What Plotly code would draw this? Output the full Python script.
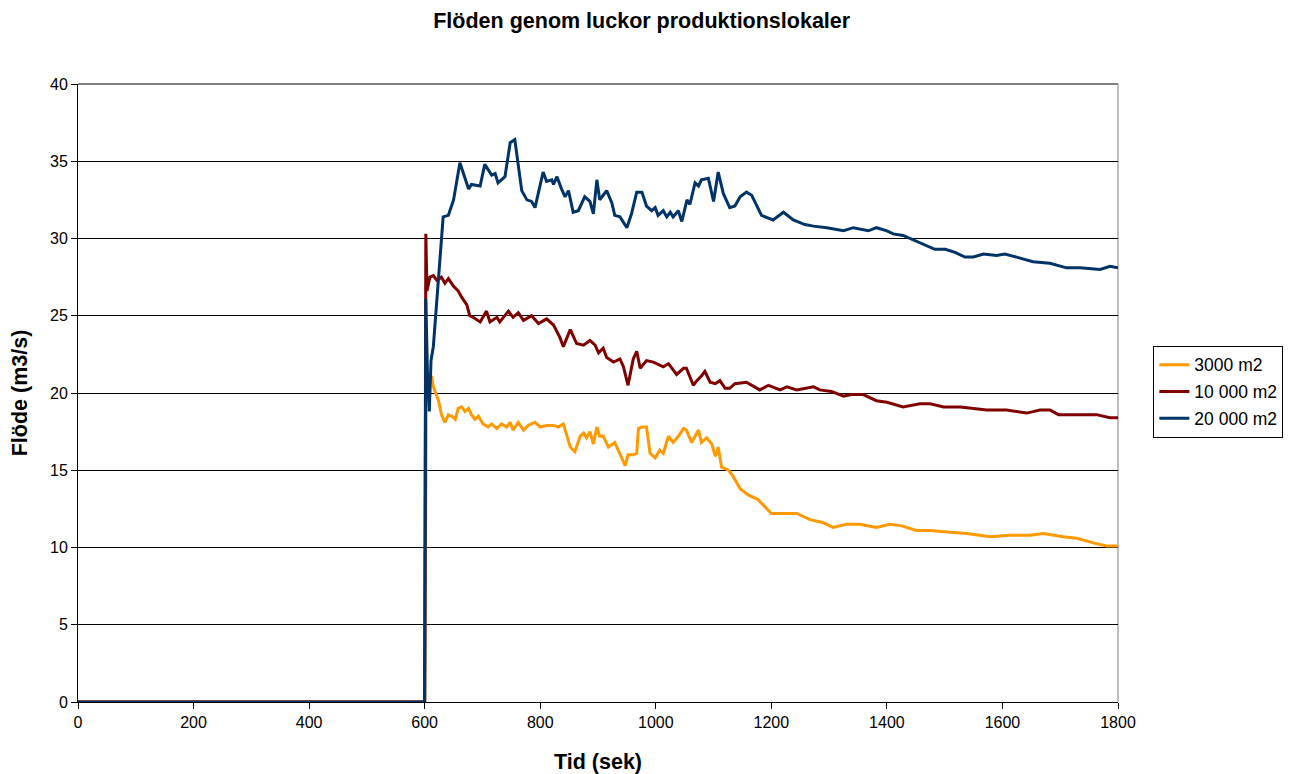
import plotly.graph_objects as go

# --- data ---
t_3000 = [0, 600, 603, 612, 615, 624, 629, 635, 641, 647, 653, 658, 664, 670, 676, 681, 687, 693, 701,
          710, 716, 725, 733, 742, 748, 753, 762, 771, 779, 791, 800, 811, 823, 831, 840, 846, 852,
          860, 869, 875, 880, 886, 892, 898, 903, 909, 918, 929, 938, 947, 952, 961, 967, 970, 976,
          984, 990, 999, 1007, 1013, 1022, 1030, 1039, 1048, 1053, 1062, 1068, 1074, 1079, 1088,
          1097, 1103, 1108, 1114, 1126, 1134, 1146, 1160, 1177, 1190, 1200, 1215, 1224, 1244, 1267,
          1290, 1307, 1330, 1353, 1382, 1405, 1426, 1451, 1475, 1504, 1538, 1579, 1613, 1648, 1671,
          1705, 1729, 1757, 1780, 1800]
v_3000 = [0, 0, 20.8, 21.1, 20.4, 19.5, 18.6, 18.1, 18.6, 18.5, 18.3, 19.0, 19.1, 18.8, 19.0, 18.6,
          18.3, 18.5, 18.0, 17.8, 18.0, 17.7, 18.0, 17.8, 18.1, 17.6, 18.1, 17.6, 17.9, 18.1, 17.8,
          17.9, 17.9, 17.8, 18.0, 17.2, 16.5, 16.2, 17.2, 17.4, 17.1, 17.5, 16.7, 17.8, 17.2, 17.2,
          16.5, 16.8, 16.1, 15.3, 16.0, 16.0, 16.1, 17.7, 17.8, 17.8, 16.1, 15.8, 16.3, 16.1, 17.2,
          16.8, 17.2, 17.7, 17.6, 16.8, 17.2, 17.6, 16.8, 17.1, 16.7, 15.9, 16.5, 15.2, 15.0, 14.6,
          13.8, 13.4, 13.1, 12.6, 12.2, 12.2, 12.2, 12.2, 11.8, 11.6, 11.3, 11.5, 11.5, 11.3, 11.5,
          11.4, 11.1, 11.1, 11.0, 10.9, 10.7, 10.8, 10.8, 10.9, 10.7, 10.6, 10.3, 10.1, 10.1]

t_10000 = [0, 600, 602, 604, 609, 615, 621, 629, 635, 641, 650, 658, 664, 673, 678, 684, 696, 707,
           713, 725, 730, 745, 753, 762, 771, 785, 797, 811, 823, 834, 840, 852, 863, 875, 886, 895,
           901, 909, 915, 927, 938, 944, 952, 961, 967, 973, 984, 996, 1013, 1022, 1036, 1048, 1053,
           1065, 1071, 1079, 1085, 1094, 1103, 1111, 1120, 1128, 1137, 1157, 1180, 1195, 1215, 1227,
           1244, 1273, 1284, 1304, 1325, 1339, 1359, 1382, 1400, 1428, 1457, 1475, 1498, 1527, 1550,
           1573, 1607, 1642, 1665, 1682, 1697, 1723, 1740, 1763, 1786, 1800]
v_10000 = [0, 0, 30.3, 26.6, 27.5, 27.6, 27.3, 27.5, 27.1, 27.4, 26.9, 26.6, 26.2, 25.7, 25.0, 24.9,
           24.6, 25.3, 24.6, 24.9, 24.6, 25.3, 24.9, 25.2, 24.7, 25.0, 24.5, 24.8, 24.4, 23.6, 23.0,
           24.1, 23.2, 23.1, 23.4, 23.1, 22.6, 22.9, 22.3, 22.0, 22.2, 21.7, 20.5, 22.2, 22.7, 21.6,
           22.1, 22.0, 21.7, 21.9, 21.2, 21.6, 21.6, 20.5, 20.8, 21.1, 21.4, 20.7, 20.6, 20.8, 20.3,
           20.3, 20.6, 20.7, 20.2, 20.5, 20.2, 20.4, 20.2, 20.4, 20.2, 20.1, 19.8, 19.9, 19.9, 19.5,
           19.4, 19.1, 19.3, 19.3, 19.1, 19.1, 19.0, 18.9, 18.9, 18.7, 18.9, 18.9, 18.6, 18.6, 18.6,
           18.6, 18.4, 18.4]

t_20000 = [0, 600, 602, 605, 608, 611, 615, 632, 641, 650, 661, 676, 681, 696, 704, 716, 722, 727,
           739, 748, 756, 762, 768, 777, 785, 791, 800, 805, 811, 820, 823, 829, 837, 843, 849, 857,
           866, 877, 886, 892, 898, 903, 909, 915, 924, 929, 938, 950, 958, 967, 976, 984, 993, 999,
           1004, 1013, 1019, 1025, 1030, 1039, 1045, 1054, 1059, 1068, 1074, 1079, 1091, 1100, 1108,
           1117, 1128, 1137, 1146, 1157, 1166, 1183, 1203, 1221, 1238, 1258, 1273, 1296, 1325, 1342,
           1368, 1382, 1400, 1411, 1428, 1446, 1463, 1483, 1501, 1518, 1535, 1550, 1567, 1590, 1604,
           1625, 1653, 1682, 1711, 1734, 1769, 1786, 1800]
v_20000 = [0, 0, 26.1, 21.0, 18.8, 22.1, 23.0, 31.4, 31.5, 32.5, 34.9, 33.2, 33.5, 33.4, 34.8, 34.1,
           34.2, 33.6, 34.0, 36.2, 36.4, 34.6, 33.1, 32.5, 32.4, 32.0, 33.4, 34.3, 33.7, 33.8, 33.5,
           34.0, 33.2, 32.7, 33.1, 31.7, 31.8, 32.7, 32.4, 31.6, 33.8, 32.5, 32.8, 33.1, 32.3, 31.5,
           31.4, 30.7, 31.6, 33.0, 33.0, 32.1, 31.8, 32.0, 31.5, 31.8, 31.4, 31.7, 31.4, 31.8, 31.1,
           32.5, 32.2, 33.6, 33.4, 33.8, 33.9, 32.4, 34.3, 32.9, 32.0, 32.1, 32.7, 33.0, 32.8, 31.5,
           31.2, 31.7, 31.2, 30.9, 30.8, 30.7, 30.5, 30.7, 30.5, 30.7, 30.5, 30.3, 30.2, 29.9, 29.6,
           29.3, 29.3, 29.1, 28.8, 28.8, 29.0, 28.9, 29.0, 28.8, 28.5, 28.4, 28.1, 28.1, 28.0, 28.2,
           28.1]

series = [
    ("3000 m2", t_3000, v_3000, "#FF9900"),
    ("10 000 m2", t_10000, v_10000, "#800000"),
    ("20 000 m2", t_20000, v_20000, "#003366"),
]

x_ticks = [0, 200, 400, 600, 800, 1000, 1200, 1400, 1600, 1800]
y_ticks = [0, 5, 10, 15, 20, 25, 30, 35, 40]

FONT = "Liberation Sans, Arial, sans-serif"

fig = go.Figure()
for name, t, v, col in series:
    fig.add_trace(go.Scatter(x=t, y=v, mode="lines", name=name, legendgroup=name,
                             line=dict(color=col, width=3)))

fig.update_layout(
    width=1299, height=774,
    paper_bgcolor="white", plot_bgcolor="white",
    margin=dict(l=78, r=181, t=84, b=72, autoexpand=False),
    font=dict(family=FONT, color="black", size=16),
    title=dict(text="<b>Flöden genom luckor produktionslokaler</b>",
               x=0.494, xanchor="center", y=0.974, yanchor="middle",
               font=dict(size=21.5, family=FONT, color="black")),
    legend=dict(x=1.034, xanchor="left", y=0.502, yanchor="middle",
                bordercolor="black", borderwidth=1, bgcolor="white",
                font=dict(size=17.5, family=FONT), tracegroupgap=1,
                itemwidth=30),
    showlegend=True,
)
fig.update_xaxes(range=[0, 1800], tickvals=x_ticks, ticktext=[str(v) for v in x_ticks],
                 showgrid=False, showline=True, linecolor="black", linewidth=1,
                 ticks="outside", ticklen=6, tickcolor="black",
                 tickfont=dict(size=16, family=FONT), automargin=False,
                 title=dict(text="<b>Tid (sek)</b>", font=dict(size=21.5, family=FONT), standoff=24),
                 zeroline=False)
fig.update_yaxes(range=[0, 40], tickvals=y_ticks, ticktext=[str(v) for v in y_ticks],
                 showgrid=True, gridcolor="black", gridwidth=1,
                 showline=True, linecolor="black", linewidth=1,
                 ticks="outside", ticklen=6, tickcolor="black",
                 tickfont=dict(size=16, family=FONT), automargin=False,
                 title=dict(text="<b>Flöde (m3/s)</b>", font=dict(size=21.5, family=FONT), standoff=16),
                 zeroline=False)

# plot-area border (top black gridline at 40, right side gray)
fig.add_shape(type="line", xref="paper", yref="paper", x0=0, x1=1, y0=1, y1=1,
              line=dict(color="black", width=1), layer="below")
fig.add_shape(type="line", xref="paper", yref="paper", x0=1, x1=1, y0=0, y1=1,
              line=dict(color="#808080", width=1), layer="below")

fig.write_html("out.html")
